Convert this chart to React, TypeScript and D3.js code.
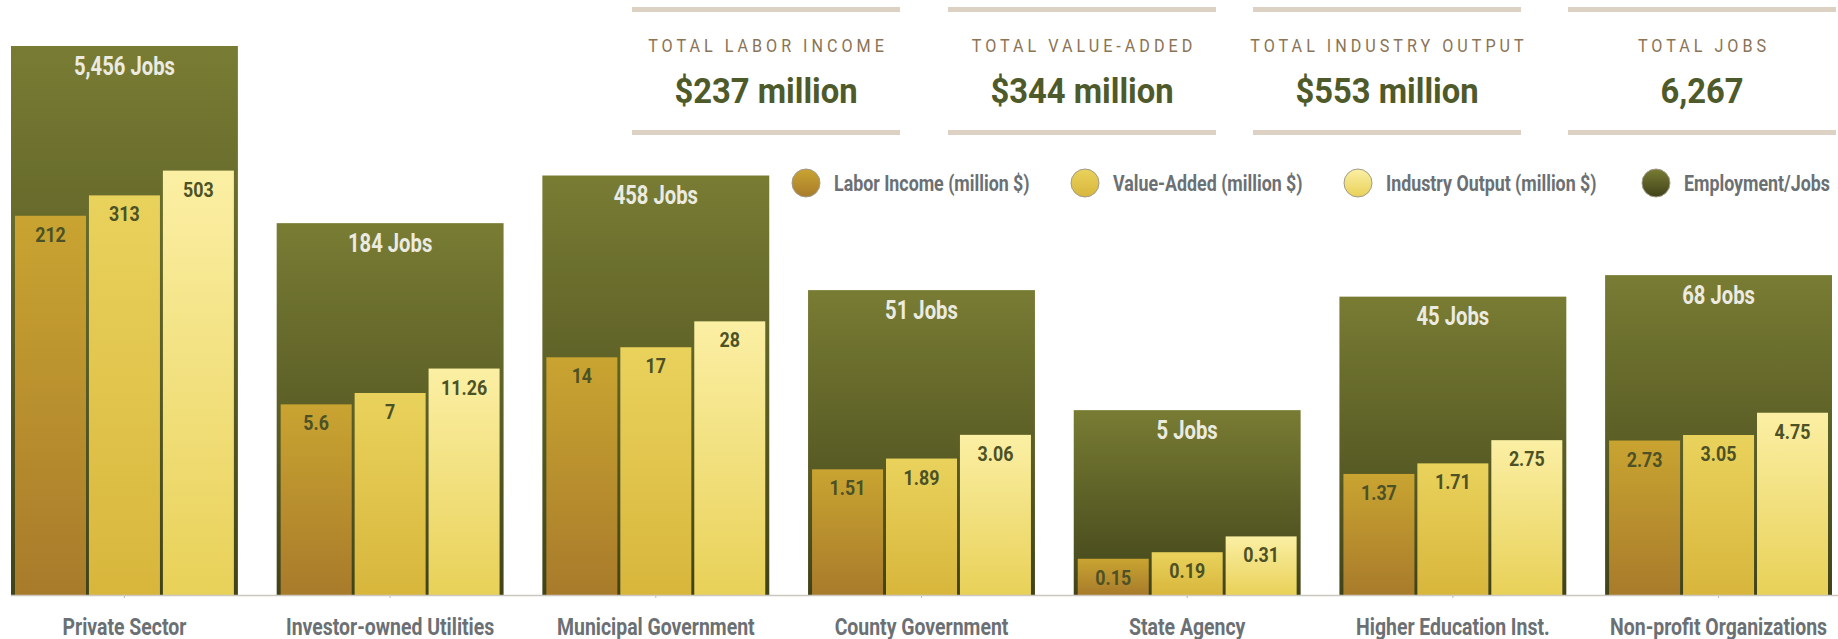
import * as d3 from 'd3';
import type { ReactNode } from 'react';

const categories = [
  'Private Sector',
  'Investor-owned Utilities',
  'Municipal Government',
  'County Government',
  'State Agency',
  'Higher Education Inst.',
  'Non-profit Organizations',
];
const jobs = [5456, 184, 458, 51, 5, 45, 68];
const laborIncome = [212, 5.6, 14, 1.51, 0.15, 1.37, 2.73];
const valueAdded = [313, 7, 17, 1.89, 0.19, 1.71, 3.05];
const industryOutput = [503, 11.26, 28, 3.06, 0.31, 2.75, 4.75];

const seriesNames = ['Labor Income (million $)', 'Value-Added (million $)', 'Industry Output (million $)', 'Employment/Jobs'];
const totalLabels = ['TOTAL LABOR INCOME', 'TOTAL VALUE-ADDED', 'TOTAL INDUSTRY OUTPUT', 'TOTAL JOBS'];
const totalValues = ['$237 million', '$344 million', '$553 million', '6,267'];

const W = 1838;
const H = 639;
const FONT = 'Roboto, "Noto Sans", sans-serif';

// gradient stops per series [top, bottom]
const grads = [
  ['#c9a431', '#a87b2b'],
  ['#e9d25c', '#d8b63c'],
  ['#fbefa4', '#e8d158'],
  ['#787c33', '#404319'],
];

// condensed text: the reference uses a narrow face, so squeeze Roboto horizontally
function T(props: {
  x: number;
  y: number;
  sx: number;
  size: number;
  fill: string;
  weight?: string | number;
  anchor?: 'start' | 'middle' | 'end';
  spacing?: number;
  children: ReactNode;
}) {
  const { x, y, sx, size, fill, weight = 'bold', anchor = 'middle', spacing = 0, children } = props;
  return (
    <text
      transform={`translate(${x},${y}) scale(${sx},1)`}
      textAnchor={anchor}
      fontSize={size}
      fontWeight={weight}
      letterSpacing={spacing}
      fill={fill}
    >
      {children}
    </text>
  );
}

export default function App() {
  const baseline = 595;
  const x = d3.scaleBand<string>().domain(categories).range([11, 1832]).paddingInner(0.146).paddingOuter(0);
  const y = d3.scaleSymlog().constant(0.15).domain([0, d3.max(jobs)!]).range([baseline, 46]);
  const sub = d3.scaleBand<number>().domain([0, 1, 2]).range([4, x.bandwidth() - 4]).paddingInner(0.04);
  const series = [laborIncome, valueAdded, industryOutput];
  const fmtJobs = d3.format(',');

  const cardX = [632, 948, 1253, 1568];
  const cardW = 268;
  const legendX = [806, 1085, 1358, 1656];

  return (
    <svg width={W} height={H} style={{ position: 'absolute', left: 0, top: 0, background: '#fff' }} fontFamily={FONT}>
      <defs>
        {grads.map((g, i) => (
          <linearGradient key={i} id={`g${i}`} x1="0" y1="0" x2="0" y2="1">
            <stop offset="0%" stopColor={g[0]} />
            <stop offset="100%" stopColor={g[1]} />
          </linearGradient>
        ))}
      </defs>

      {/* summary cards */}
      {totalLabels.map((lab, i) => (
        <g key={lab} transform={`translate(${cardX[i]},0)`}>
          <rect x={0} y={7} width={cardW} height={5} fill="#dcd1c3" />
          <rect x={0} y={130} width={cardW} height={5} fill="#dcd1c3" />
          <T x={cardW / 2 + 2} y={52} sx={0.85} size={19} weight="normal" spacing={4.7} fill="#8b7355">
            {lab}
          </T>
          <T x={cardW / 2} y={103} sx={0.91} size={36} fill="#4f5a2a">
            {totalValues[i]}
          </T>
        </g>
      ))}

      {/* legend */}
      {seriesNames.map((name, i) => (
        <g key={name} transform={`translate(${legendX[i]},183)`}>
          <circle r={14} fill={`url(#g${i})`} stroke="#a09a8a" strokeWidth={1} />
          <T x={28} y={8} sx={0.81} size={22} anchor="start" fill="#6b7074">
            {name}
          </T>
        </g>
      ))}

      {/* bars */}
      {categories.map((c, i) => {
        const x0 = x(c)!;
        const cx = x.bandwidth() / 2;
        return (
          <g key={c} transform={`translate(${x0},0)`}>
            <rect x={0} y={y(jobs[i])} width={x.bandwidth()} height={baseline - y(jobs[i])} fill="url(#g3)" />
            <T x={cx} y={y(jobs[i]) + 28.5} sx={0.81} size={25} fill="#ecebe2">
              {fmtJobs(jobs[i])} Jobs
            </T>
            {series.map((s, k) => (
              <g key={k}>
                <rect x={sub(k)} y={y(s[i])} width={sub.bandwidth()} height={baseline - y(s[i])} fill={`url(#g${k})`} />
                <T x={sub(k)! + sub.bandwidth() / 2} y={y(s[i]) + 26} sx={0.85} size={21} fill="#4c5126">
                  {String(s[i])}
                </T>
              </g>
            ))}
            <line x1={cx} x2={cx} y1={baseline} y2={baseline + 3} stroke="#bdb9ae" />
            <T x={cx} y={635} sx={0.81} size={24} fill="#6b7074">
              {c}
            </T>
          </g>
        );
      })}
      <line x1={11} x2={W} y1={baseline + 0.5} y2={baseline + 0.5} stroke="#cbc8bf" strokeWidth={1.5} />
    </svg>
  );
}
